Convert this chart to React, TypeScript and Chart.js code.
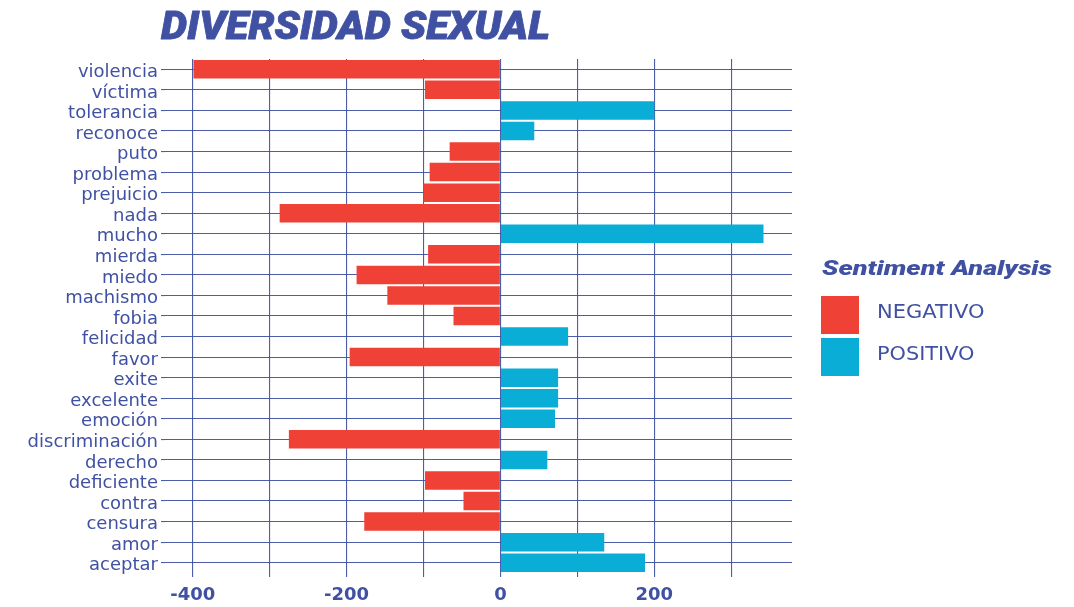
import React, { useEffect, useRef } from "react";
import { Chart, registerables } from "chart.js";

Chart.register(...registerables);

const categories = [
  "violencia", "víctima", "tolerancia", "reconoce", "puto", "problema", "prejuicio",
  "nada", "mucho", "mierda", "miedo", "machismo", "fobia", "felicidad", "favor",
  "exite", "excelente", "emoción", "discriminación", "derecho", "deficiente",
  "contra", "censura", "amor", "aceptar",
];

const values = [
  -399, -98, 200, 44, -66, -92, -100,
  -287, 342, -94, -187, -147, -61, 88, -196,
  75, 75, 71, -275, 61, -98,
  -48, -177, 135, 188,
];

const seriesNames = ["NEGATIVO", "POSITIVO"];
const seriesColors = ["#ef4136", "#0aadd6"];
const xTickLabels = [-400, -200, 0, 200];
const chartTitle = "DIVERSIDAD SEXUAL";
const legendTitle = "Sentiment Analysis";

const TEXT = "#4051a3";
const GRID = "rgba(58,76,160,0.9)";

function drawFitted(
  ctx: CanvasRenderingContext2D,
  text: string,
  x: number,
  y: number,
  font: string,
  width: number,
  stroke = 0
) {
  ctx.save();
  ctx.font = font;
  ctx.textAlign = "left";
  ctx.textBaseline = "alphabetic";
  const w = ctx.measureText(text).width;
  const s = w > 0 ? width / w : 1;
  ctx.translate(x, y);
  ctx.scale(s, 1);
  ctx.fillStyle = TEXT;
  ctx.fillText(text, 0, 0);
  if (stroke > 0) {
    ctx.strokeStyle = TEXT;
    ctx.lineWidth = stroke;
    ctx.lineJoin = "round";
    ctx.strokeText(text, 0, 0);
  }
  ctx.restore();
}

const decorPlugin = {
  id: "decor",
  afterDraw(chart: any) {
    const ctx = chart.ctx as CanvasRenderingContext2D;
    drawFitted(ctx, chartTitle, 161, 38.5, "italic 900 38px Roboto", 389, 0.8);
    drawFitted(ctx, legendTitle, 822, 274.5, "italic 900 21px Roboto", 230, 0);
    const boxTops = [296, 338];
    const baselines = [317.5, 360];
    const widths = [107.5, 97.5];
    seriesNames.forEach((name, i) => {
      ctx.save();
      ctx.fillStyle = seriesColors[i];
      ctx.fillRect(821, boxTops[i], 38, 38);
      ctx.restore();
      drawFitted(ctx, name, 877, baselines[i], "20px 'DejaVu Sans'", widths[i]);
    });
  },
};

export default function App() {
  const ref = useRef<HTMLCanvasElement | null>(null);

  useEffect(() => {
    if (!ref.current) return;
    const dataMin = Math.min(...values);
    const dataMax = Math.max(...values);
    const pad = (dataMax - dataMin) * 0.05;

    const chart = new Chart(ref.current, {
      type: "bar",
      data: {
        labels: categories,
        datasets: [
          {
            label: seriesNames[0],
            data: values.map((v) => (v < 0 ? v : null)),
            backgroundColor: seriesColors[0],
            barPercentage: 0.9,
            categoryPercentage: 1,
          },
          {
            label: seriesNames[1],
            data: values.map((v) => (v >= 0 ? v : null)),
            backgroundColor: seriesColors[1],
            barPercentage: 0.9,
            categoryPercentage: 1,
          },
        ],
      },
      options: {
        indexAxis: "y",
        animation: false,
        responsive: false,
        layout: { padding: { top: 59, right: 282, left: 0, bottom: 0 } },
        plugins: {
          legend: { display: false },
          title: { display: false },
          tooltip: { enabled: false },
        },
        scales: {
          x: {
            stacked: true,
            min: dataMin - pad,
            max: dataMax + pad,
            border: { display: false },
            grid: { color: GRID, lineWidth: 1.1, tickLength: 4, drawTicks: true },
            ticks: {
              stepSize: 100,
              includeBounds: false,
              autoSkip: false,
              maxRotation: 0,
              padding: 8,
              color: TEXT,
              font: { family: "'DejaVu Sans'", size: 18, weight: "bold" },
              callback: (v: any) => (xTickLabels.includes(Number(v)) ? String(v) : ""),
            },
            afterFit: (scale: any) => {
              scale.height = 34;
            },
          },
          y: {
            stacked: true,
            border: { display: false },
            grid: { color: GRID, lineWidth: 1.1, tickLength: 4, offset: false },
            ticks: {
              autoSkip: false,
              padding: 3,
              labelOffset: 3,
              color: TEXT,
              font: { family: "'DejaVu Sans'", size: 18 },
            },
            afterFit: (scale: any) => {
              scale.width = 165;
            },
          },
        },
      },
      plugins: [decorPlugin],
    } as any);

    return () => chart.destroy();
  }, []);

  return (
    <div style={{ position: "fixed", left: 0, top: 0, width: 1074, height: 607, background: "#ffffff" }}>
      <canvas ref={ref} width={1074} height={607} style={{ width: 1074, height: 607, display: "block" }} />
    </div>
  );
}
